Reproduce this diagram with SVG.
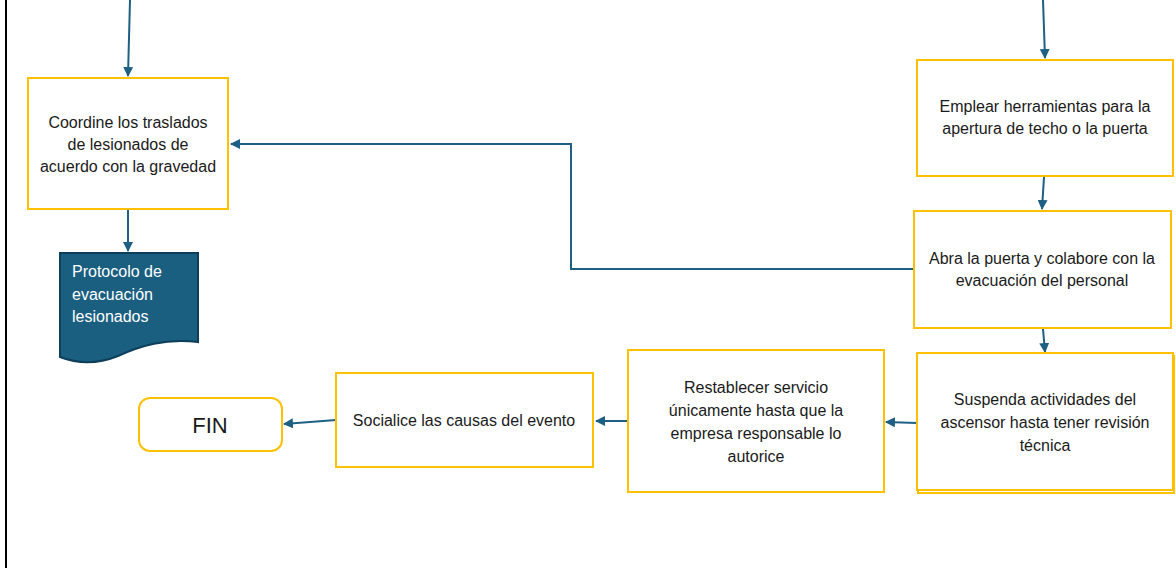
<svg xmlns="http://www.w3.org/2000/svg" width="1176" height="572" viewBox="0 0 1176 572">
<defs>
<style>
.box{fill:#fff;stroke:#FFC000;stroke-width:2}
.t{font-family:"Liberation Sans",Arial,sans-serif;font-size:16px;fill:#1a1a1a;text-anchor:middle}
.w{font-family:"Liberation Sans",Arial,sans-serif;font-size:16px;fill:#fff}
.c{fill:none;stroke:#1D6083;stroke-width:2}
</style>
<marker id="ah" viewBox="0 0 10 10" refX="9" refY="5" markerWidth="5" markerHeight="5" orient="auto" markerUnits="strokeWidth">
<path d="M0,0 L10,5 L0,10 z" fill="#1D6083"/>
</marker>
</defs>
<rect width="1176" height="572" fill="#fff"/>
<line x1="6" y1="0" x2="6" y2="568" stroke="#000" stroke-width="2"/>
<g id="connectors">
<path class="c" d="M130,0 L128,76" marker-end="url(#ah)"/>
<path class="c" d="M128,210 L128,251" marker-end="url(#ah)"/>
<path class="c" d="M1043,0 L1045,58" marker-end="url(#ah)"/>
<path class="c" d="M1044,177 L1042,209" marker-end="url(#ah)"/>
<path class="c" d="M914,269 L571,269 L571,144 L231,144" marker-end="url(#ah)"/>
<path class="c" d="M1043,329 L1045,352" marker-end="url(#ah)"/>
<path class="c" d="M917,423 L886,422" marker-end="url(#ah)"/>
<path class="c" d="M628,421 L596,421" marker-end="url(#ah)"/>
<path class="c" d="M336,420 L284,424" marker-end="url(#ah)"/>
</g>
<g id="coordine">
<rect class="box" x="28" y="78" width="200" height="131"/>
<text class="t" x="128" y="128">Coordine los traslados</text>
<text class="t" x="128" y="150">de lesionados de</text>
<text class="t" x="128" y="172">acuerdo con la gravedad</text>
</g>
<g id="protocolo">
<path d="M60,253 L198,253 L198,342 C165,338 140,346 118,356 C98,364 78,364 60,357 Z" fill="#1A5E80" stroke="#0E3F5A" stroke-width="2"/>
<text class="w" x="72" y="277">Protocolo de</text>
<text class="w" x="72" y="300">evacuación</text>
<text class="w" x="72" y="322">lesionados</text>
</g>
<g id="emplear">
<rect class="box" x="917" y="60" width="256" height="116"/>
<text class="t" x="1045" y="112">Emplear herramientas para la</text>
<text class="t" x="1045" y="134">apertura de techo o la puerta</text>
</g>
<g id="abra">
<rect class="box" x="914" y="211" width="257" height="117"/>
<text class="t" x="1042" y="264">Abra la puerta y colabore con la</text>
<text class="t" x="1042" y="286">evacuación del personal</text>
</g>
<g id="suspenda">
<rect class="box" x="918" y="356" width="256" height="137"/>
<rect class="box" x="917" y="353" width="256" height="137"/>
<text class="t" x="1045" y="405">Suspenda actividades del</text>
<text class="t" x="1045" y="428">ascensor hasta tener revisión</text>
<text class="t" x="1045" y="451">técnica</text>
</g>
<g id="restablecer">
<rect class="box" x="628" y="350" width="256" height="142"/>
<text class="t" x="756" y="393">Restablecer servicio</text>
<text class="t" x="756" y="416">únicamente hasta que la</text>
<text class="t" x="756" y="439">empresa responsable lo</text>
<text class="t" x="756" y="462">autorice</text>
</g>
<g id="socialice">
<rect class="box" x="336" y="373" width="257" height="94"/>
<text class="t" x="464" y="426">Socialice las causas del evento</text>
</g>
<g id="fin">
<rect class="box" x="139" y="398" width="143" height="53" rx="11"/>
<text class="t" x="210" y="433" style="font-size:22px">FIN</text>
</g>
</svg>
